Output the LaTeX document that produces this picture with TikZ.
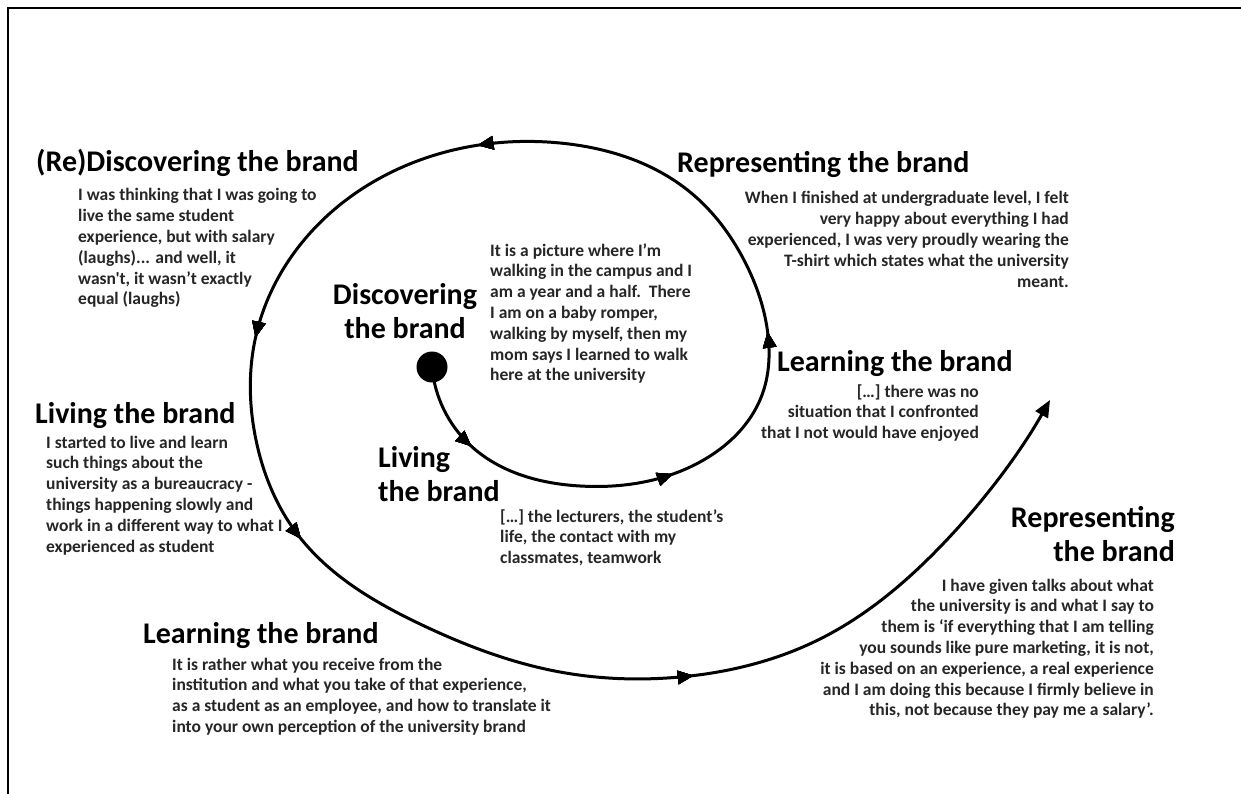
\documentclass[tikz,border=0pt]{standalone}
\usepackage{fontspec}
\setmainfont{Carlito}[Ligatures=TeXOff]
\usetikzlibrary{arrows.meta,decorations.markings,hobby}
\newcommand\blockL[1]{\begin{tabular}[t]{@{}l@{}}#1\end{tabular}}
\newcommand\blockR[1]{\begin{tabular}[t]{@{}r@{}}#1\end{tabular}}
\newcommand\blockC[1]{\begin{tabular}[t]{@{}c@{}}#1\end{tabular}}
\tikzset{
  head/.style={font=\fontsize{30}{34}\selectfont\bfseries, text=black, inner sep=0pt},
  body/.style={font=\fontsize{17.5}{20.8}\selectfont\bfseries, text=black!85, inner sep=0pt},
  midtip/.style={decoration={markings,mark=at position #1 with {\arrow{Triangle[length=16pt,width=13pt]}}}, postaction={decorate}},
  spiralline/.style={line width=3pt, -{Triangle[length=17pt,width=14pt]}},
}
\begin{document}
\begin{tikzpicture}[x=1pt,y=-1pt]
\useasboundingbox (0,0) rectangle (1241,794);
\fill[white] (0,0) rectangle (1241,794);
\draw[line width=2.5pt] (8,800) -- (8,8) -- (1250,8);

\coordinate (s0) at (432,367);
\coordinate (end) at (1050,400);
\draw[use Hobby shortcut, spiralline, midtip=91pt, midtip=303pt, midtip=490pt, midtip=877pt, midtip=1189pt, midtip=1402pt, midtip=1832pt]
  (s0) .. (470,445) .. (580,486) .. (700,462) .. (762,395) .. (768,335) .. (745,262) .. (690,192)
  .. (560,143) .. (420,160) .. (300,245) .. (255,340) .. (256,440) .. (298,535) .. (420,624)
  .. (560,672) .. (680,677) .. (820,639) .. (940,547) .. (end);
\node[circle, fill=black, minimum size=31pt, inner sep=0pt] (start) at (s0) {};

\node[head, anchor=base west] (redisc) at (36,172) {(Re)Discovering the brand};
\node[body, anchor=base west] (redisctxt) at (78,201) {\blockL{I was thinking that I was going to\\ live the same student\\ experience, but with salary\\ (laughs)... and well, it\\ wasn't, it wasn’t exactly\\ equal (laughs)}};

\node[head, anchor=base west] (repra) at (677,173) {Representing the brand};
\node[body, anchor=base east] (repratxt) at (1069,204) {\blockR{When I finished at undergraduate level, I felt\\ very happy about everything I had\\ experienced, I was very proudly wearing the\\ T-shirt which states what the university\\ meant.}};

\node[head, anchor=base west] (learna) at (777,371) {Learning the brand};
\node[body, anchor=base east] (learnatxt) at (979,397) {\blockR{[…] there was no\\ situation that I confronted\\ that I not would have enjoyed}};

\node[head, anchor=base] (disc) at (405,304) {\blockC{Discovering\\ the brand}};
\node[body, anchor=base west] (disctxt) at (490,256) {\blockL{It is a picture where I’m\\ walking in the campus and I\\ am a year and a half.\ \ There\\ I am on a baby romper,\\ walking by myself, then my\\ mom says I learned to walk\\ here at the university}};

\node[head, anchor=base west] (livea) at (378,467) {\blockL{Living\\ the brand}};
\node[body, anchor=base west] (liveatxt) at (500,522) {\blockL{[…] the lecturers, the student’s\\ life, the contact with my\\ classmates, teamwork}};

\node[head, anchor=base west] (liveb) at (35,423) {Living the brand};
\node[body, anchor=base west] (livebtxt) at (46,448) {\blockL{I started to live and learn\\ such things about the\\ university as a bureaucracy -\\ things happening slowly and\\ work in a different way to what I\\ experienced as student}};

\node[head, anchor=base west] (learnb) at (143,643) {Learning the brand};
\node[body, anchor=base west] (learnbtxt) at (172,670) {\blockL{It is rather what you receive from the\\ institution and what you take of that experience,\\ as a student as an employee, and how to translate it\\ into your own perception of the university brand}};

\node[head, anchor=base east] (reprb) at (1175,527) {\blockR{Representing\\ the brand}};
\node[body, anchor=base east] (reprbtxt) at (1154,591) {\blockR{I have given talks about what\\ the university is and what I say to\\ them is ‘if everything that I am telling\\ you sounds like pure marketing, it is not,\\ it is based on an experience, a real experience\\ and I am doing this because I firmly believe in\\ this, not because they pay me a salary’.}};
\end{tikzpicture}
\end{document}
